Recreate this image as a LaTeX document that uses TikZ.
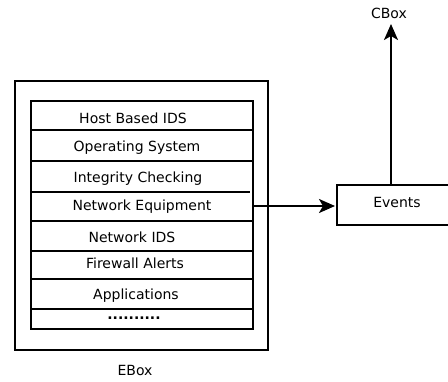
\documentclass[tikz,border=0pt]{standalone}
\usepackage{fontspec}
\setmainfont{DejaVu Sans}
\usetikzlibrary{arrows.meta}
\begin{document}
\begin{tikzpicture}[x=1pt,y=-1pt,
  lbl/.style={font=\fontsize{14}{16}\selectfont, inner sep=0pt, anchor=base},
  frame/.style={draw=black, line width=2pt},
  divider/.style={draw=black, line width=2pt},
  flow/.style={draw=black, line width=2pt, -{Stealth[length=16pt,width=14pt,inset=4pt]}}]
\useasboundingbox (0,0) rectangle (448,381);
% outer and inner boxes
\draw[frame] (15,81) rectangle (268,350);
\draw[frame] (31,101) rectangle (253,329);
\coordinate (stackout) at (253,206);
% rows
\draw[divider] (31,129.5) -- (253,129.5);
\draw[divider] (31,160.5) -- (253,160.5);
\draw[divider] (31,191.5) -- (250,191.5);
\draw[divider] (31,220.5) -- (253,220.5);
\draw[divider] (31,251) -- (253,251);
\draw[divider] (31,279) -- (253,279);
\draw[divider] (31,309) -- (253,309);
\node[lbl] (hids) at (133,123.3) {Host Based IDS};
\node[lbl] (os) at (137,151.7) {Operating System};
\node[lbl] (ic) at (138,182) {Integrity Checking};
\node[lbl] (ne) at (142,210.7) {Network Equipment};
\node[lbl] (nids) at (132,242.7) {Network IDS};
\node[lbl] (fw) at (135,268.3) {Firewall Alerts};
\node[lbl] (app) at (136,299) {Applications};
\node[lbl] (more) at (134,319.5) {\textbf{..........}};
\node[lbl] (ebox) at (135,375) {EBox};
% events box
\draw[frame] (337,185) rectangle (450,225);
\node[lbl] (events) at (397,207.7) {Events};
\coordinate (evin) at (335,206);
\coordinate (evtop) at (391,184);
\node[lbl] (cbox) at (389,18.3) {CBox};
\coordinate (cin) at (391,24);
\draw[flow] (stackout) -- (evin);
\draw[flow] (evtop) -- (cin);
\end{tikzpicture}
\end{document}
